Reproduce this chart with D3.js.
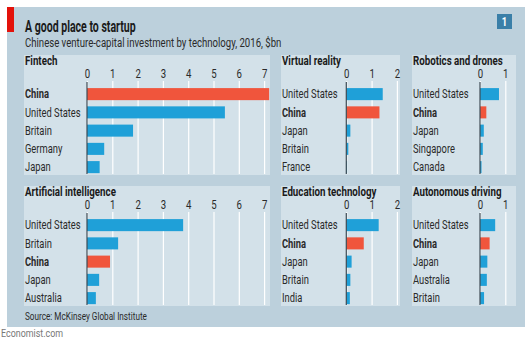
<!DOCTYPE html>
<html>
<head>
<meta charset="utf-8">
<script src="https://cdn.jsdelivr.net/npm/d3@7"></script>
<style>
  body { margin: 0; background: #fff; }
  text { font-family: Roboto, sans-serif; }
</style>
</head>
<body>
<div id="chart"></div>
<script>
// data, $bn
var fintech_countries   = [ 'China', 'United States', 'Britain', 'Germany', 'Japan' ];
var fintech_values      = [ 7.2, 5.45, 1.82, 0.68, 0.5 ];
var vr_countries        = [ 'United States', 'China', 'Japan', 'Britain', 'France' ];
var vr_values           = [ 1.44, 1.31, 0.16, 0.08, 0.03 ];
var robotics_countries  = [ 'United States', 'China', 'Japan', 'Singapore', 'Canada' ];
var robotics_values     = [ 0.75, 0.25, 0.15, 0.11, 0.06 ];
var ai_countries        = [ 'United States', 'Britain', 'China', 'Japan', 'Australia' ];
var ai_values           = [ 3.8, 1.23, 0.91, 0.48, 0.35 ];
var edu_countries       = [ 'United States', 'China', 'Japan', 'Britain', 'India' ];
var edu_values          = [ 1.28, 0.69, 0.21, 0.16, 0.14 ];
var auto_countries      = [ 'United States', 'China', 'Japan', 'Australia', 'Britain' ];
var auto_values         = [ 0.6, 0.38, 0.29, 0.27, 0.16 ];
var ticks_wide          = [ 0, 1, 2, 3, 4, 5, 6, 7 ];
var ticks_mid           = [ 0, 1, 2 ];
var ticks_narrow        = [ 0, 1 ];

var chart_width     =   531;
var chart_height    =   340;
var unit            =   25.3;   // px per $bn, same in every panel
var squeeze         =   0.78;   // fake a condensed face

var svg             =   d3.select( '#chart' )
    .append( 'svg' )
    .attr( 'width', chart_width )
    .attr( 'height', chart_height );

function label(parent, x, y, str, size, weight, fill, sx){
    return parent.append( 'text' )
        .attr( 'transform', 'translate(' + x + ',' + y + ') scale(' + (sx || squeeze) + ',1)' )
        .attr( 'fill', fill || '#2a2a2a' )
        .style( 'font-size', size + 'px' )
        .style( 'font-weight', weight || 'normal' )
        .text( str );
}

// Background
svg.append( 'rect' )
    .attr( 'x', 7 ).attr( 'y', 7 )
    .attr( 'width', 518 ).attr( 'height', 320 )
    .attr( 'fill', '#bcd0dc' );

svg.append( 'rect' )
    .attr( 'x', 7 ).attr( 'y', 7 )
    .attr( 'width', 7 ).attr( 'height', 25 )
    .attr( 'fill', '#e3120b' );

svg.append( 'rect' )
    .attr( 'x', 497 ).attr( 'y', 14 )
    .attr( 'width', 15 ).attr( 'height', 15 )
    .attr( 'fill', '#3a7fa8' );

label( svg, 504.5, 26, '1', 12, 'bold', '#fff' ).attr( 'text-anchor', 'middle' );

// Titles
label( svg, 25, 32, 'A good place to startup', 16, 'bold', '#1a1a1a', 0.66 );
label( svg, 25, 47, 'Chinese venture-capital investment by technology, 2016, $bn', 12.3 );
label( svg, 25, 320, 'Source: McKinsey Global Institute', 10.5 );
label( svg, 1, 337, 'Economist.com', 10.5, 'normal', '#777', 0.85 );

// Panels
var panels = [
    { title: 'Fintech',              cats: fintech_countries,  vals: fintech_values,  ticks: ticks_wide,   px: 24,  zero: 87,    w: 246, top: 55 },
    { title: 'Virtual reality',      cats: vr_countries,       vals: vr_values,       ticks: ticks_mid,    px: 281, zero: 346.3, w: 119, top: 55 },
    { title: 'Robotics and drones',  cats: robotics_countries, vals: robotics_values, ticks: ticks_narrow, px: 412, zero: 480,   w: 104, top: 55 },
    { title: 'Artificial intelligence', cats: ai_countries,    vals: ai_values,       ticks: ticks_wide,   px: 24,  zero: 87,    w: 246, top: 186 },
    { title: 'Education technology', cats: edu_countries,      vals: edu_values,      ticks: ticks_mid,    px: 281, zero: 346.3, w: 119, top: 186 },
    { title: 'Autonomous driving',   cats: auto_countries,     vals: auto_values,     ticks: ticks_narrow, px: 412, zero: 480,   w: 104, top: 186 }
];

panels.forEach(function(p, i){
    var g = svg.append( 'g' )
        .attr( 'transform', 'translate(0,' + p.top + ')' );

    var clip_id = 'clip-' + i;
    svg.append( 'clipPath' )
        .attr( 'id', clip_id )
        .append( 'rect' )
        .attr( 'x', p.px ).attr( 'y', 0 )
        .attr( 'width', p.w ).attr( 'height', 120 );

    g.append( 'rect' )
        .attr( 'x', p.px ).attr( 'y', 0 )
        .attr( 'width', p.w ).attr( 'height', 120 )
        .attr( 'fill', '#d3e1e9' );

    var x_scale = d3.scaleLinear()
        .domain([ 0, d3.max(p.ticks) ])
        .range([ p.zero, p.zero + unit * d3.max(p.ticks) ]);

    var y_scale = d3.scaleBand()
        .domain( p.cats )
        .range([ 30, 121.25 ])
        .paddingInner( 0.34 )
        .paddingOuter( 0.17 );

    // gridlines + tick labels
    var x_axis = d3.axisTop( x_scale )
        .tickValues( p.ticks )
        .tickFormat( d3.format('d') )
        .tickSizeInner( -93 )
        .tickSizeOuter( 0 )
        .tickPadding( 3 );

    var ax = g.append( 'g' )
        .attr( 'transform', 'translate(0,26)' )
        .call( x_axis );
    ax.select( '.domain' ).remove();
    ax.selectAll( 'line' ).attr( 'stroke', '#fff' ).attr( 'stroke-width', 1.2 );
    ax.selectAll( 'text' )
        .attr( 'fill', '#2a2a2a' )
        .attr( 'transform', 'scale(' + squeeze + ',1)' )
        .style( 'font-size', '12.3px' )
        .style( 'font-family', 'Roboto, sans-serif' );

    // panel title
    label( g, p.px + 1, 10, p.title, 12.5, 'bold', '#1a1a1a' );

    // category labels
    p.cats.forEach(function(c){
        label( g, p.px + 1, y_scale(c) + y_scale.bandwidth() / 2, c, 12,
               c === 'China' ? 'bold' : 'normal' )
            .attr( 'dy', '0.36em' );
    });

    // bars
    g.append( 'g' )
        .attr( 'clip-path', 'url(#' + clip_id + ')' )
        .selectAll( 'rect' )
        .data( p.vals )
        .enter()
        .append( 'rect' )
        .attr( 'x', x_scale(0) )
        .attr( 'y', function(d, j){ return y_scale(p.cats[j]); })
        .attr( 'width', function(d){ return x_scale(d) - x_scale(0); })
        .attr( 'height', y_scale.bandwidth() )
        .attr( 'fill', function(d, j){ return p.cats[j] === 'China' ? '#f0553c' : '#1fa0d8'; });

    // zero line
    g.append( 'line' )
        .attr( 'x1', x_scale(0) ).attr( 'x2', x_scale(0) )
        .attr( 'y1', 27 ).attr( 'y2', 119 )
        .attr( 'stroke', '#3d4a54' )
        .attr( 'stroke-width', 1.2 );
});
</script>
</body>
</html>
